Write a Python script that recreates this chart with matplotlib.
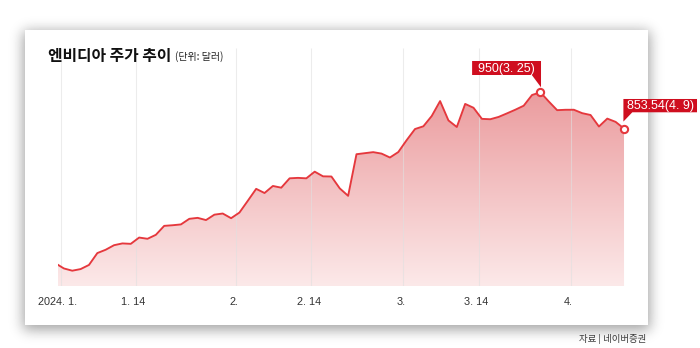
import numpy as np
import matplotlib
matplotlib.use("Agg")
import matplotlib.pyplot as plt
from matplotlib.patches import Rectangle, Polygon
from matplotlib import transforms
from math import erf

# ---------------- data ----------------
dates = [
    "2023-12-29",
    "2024-01-02", "2024-01-03", "2024-01-04", "2024-01-05", "2024-01-08", "2024-01-09",
    "2024-01-10", "2024-01-11", "2024-01-12", "2024-01-16", "2024-01-17", "2024-01-18",
    "2024-01-19", "2024-01-22", "2024-01-23", "2024-01-24", "2024-01-25", "2024-01-26",
    "2024-01-29", "2024-01-30", "2024-01-31",
    "2024-02-01", "2024-02-02", "2024-02-05", "2024-02-06", "2024-02-07", "2024-02-08",
    "2024-02-09", "2024-02-12", "2024-02-13", "2024-02-14", "2024-02-15", "2024-02-16",
    "2024-02-20", "2024-02-21", "2024-02-22", "2024-02-23", "2024-02-26", "2024-02-27",
    "2024-02-28", "2024-02-29",
    "2024-03-01", "2024-03-04", "2024-03-05", "2024-03-06", "2024-03-07", "2024-03-08",
    "2024-03-11", "2024-03-12", "2024-03-13", "2024-03-14", "2024-03-15", "2024-03-18",
    "2024-03-19", "2024-03-20", "2024-03-21", "2024-03-22", "2024-03-25", "2024-03-26",
    "2024-03-27", "2024-03-28",
    "2024-04-01", "2024-04-02", "2024-04-03", "2024-04-04", "2024-04-05", "2024-04-08",
    "2024-04-09",
]
close = [
    495.22,
    481.68, 475.69, 479.98, 490.97, 522.53, 531.40,
    543.50, 548.22, 547.10, 563.82, 560.53, 571.07,
    594.91, 596.54, 598.73, 613.62, 616.17, 610.31,
    624.65, 627.74, 615.27,
    630.27, 661.60, 693.32, 682.23, 700.99, 696.41,
    721.33, 722.48, 721.28, 739.00, 726.58, 726.13,
    694.52, 674.72, 785.38, 788.17, 790.92, 787.01,
    776.63, 791.12,
    822.79, 852.37, 859.64, 887.00, 926.69, 875.28,
    857.74, 919.13, 908.88, 879.44, 878.37, 884.55,
    893.98, 903.72, 914.35, 942.89, 950.02, 925.61,
    902.50, 903.56,
    903.63, 894.52, 889.64, 859.05, 880.08, 871.33,
    853.54,
]
tick_dates = ["2024-01-01", "2024-01-14", "2024-02-01", "2024-02-14",
              "2024-03-01", "2024-03-14", "2024-04-01"]
tick_labels = ["2024. 1.", "1. 14", "2.", "2. 14", "3.", "3. 14", "4."]
callout_dates = ["2024-03-25", "2024-04-09"]
callout_labels = ["950(3. 25)", "853.54(4. 9)"]
title = "엔비디아 주가 추이"
unit = "(단위: 달러)"
source = "자료 | 네이버증권"

# ---------------- style ----------------
W, H = 700, 348
LINE = "#e5383d"
BOX = "#cf0e1f"
KFONT = ["Noto Sans CJK KR", "DejaVu Sans"]
LFONT = ["Liberation Sans", "DejaVu Sans"]

fig = plt.figure(figsize=(W / 100, H / 100), dpi=100)
fig.patch.set_facecolor("white")

# background card with soft shadow
bg = fig.add_axes([0, 0, 1, 1])
bg.set_xlim(0, W)
bg.set_ylim(H, 0)
bg.axis("off")
cx0, cx1, cy0, cy1 = 25, 648, 30, 325
sig = 6.5
verf = np.vectorize(erf)
xs = np.arange(W) + 0.5
ys = np.arange(H) + 0.5
fx = 0.5 * (verf((xs - cx0 + 2) / (sig * 1.414)) - verf((xs - cx1 - 2) / (sig * 1.414)))
fy = 0.5 * (verf((ys - cy0 - 1) / (sig * 1.414)) - verf((ys - cy1 - 5) / (sig * 1.414)))
shadow = 1.0 - 0.36 * np.outer(fy, fx)
bg.imshow(shadow, extent=(0, W, H, 0), cmap="gray", vmin=0, vmax=1,
          interpolation="bilinear", aspect="auto", zorder=0)
bg.add_patch(Rectangle((cx0, cy0), cx1 - cx0, cy1 - cy0, facecolor="white",
                       edgecolor="none", zorder=1))

# main axes (pixel geometry)
axL, axR, axT, axB = 57.7, 640.0, 48.0, 286.0
ax = fig.add_axes([axL / W, (H - axB) / H, (axR - axL) / W, (axB - axT) / H])
ax.set_facecolor("none")
for s in ax.spines.values():
    s.set_visible(False)

x = np.arange(len(close))
y = np.array(close)
px_per_day = 8.36
x_left = 0.26
ybot = 435.0
ytop = 1067.8

# gradient fill under line
fill = ax.fill_between(x, y, ybot, facecolor="none", edgecolor="none")
top_c = np.array([231, 138, 141]) / 255
bot_c = np.array([252, 233, 233]) / 255
t = np.linspace(0, 1, 256)[:, None]
grad = (top_c[None, :] * (1 - t) + bot_c[None, :] * t)[:, None, :]
xlim = (x_left, x_left + (axR - axL) / px_per_day)
im = ax.imshow(grad, extent=(xlim[0], xlim[1], ybot, ytop),
               origin="upper", aspect="auto", interpolation="bilinear", zorder=1)
im.set_clip_path(fill.get_paths()[0], transform=ax.transData)
ax.set_xlim(*xlim)
ax.set_ylim(ybot, ytop)
ax.set_yticks([])

# gridlines at tick positions
tick_pos = []
for d in tick_dates:
    idx = next(i for i, dd in enumerate(dates) if dd >= d)
    tick_pos.append(idx - 0.4)
ax.vlines(tick_pos, ybot, ytop, colors=(0.88, 0.88, 0.88), linewidth=0.8,
          alpha=0.6, zorder=2)

ax.plot(x, y, color=LINE, linewidth=1.35, zorder=3, solid_joinstyle="round")

ax.set_xticks(tick_pos)
ax.set_xticklabels(tick_labels, fontsize=7.8, color="#333333", family=LFONT)
ax.tick_params(axis="x", length=0, pad=8)
shift = transforms.ScaledTranslation(-2.5 / 100, 0, fig.dpi_scale_trans)
for lab in ax.get_xticklabels():
    lab.set_transform(lab.get_transform() + shift)

# callouts
shapes = [
    ([(-68.3, 31.3), (0.6, 31.3), (0.6, 5.0), (-8.6, 17.3), (-68.3, 17.3)], (-33.8, 23.6)),
    ([(-0.6, 29.6), (73.0, 29.6), (73.0, 16.3), (8.3, 16.3), (-0.6, 7.0)], (36.5, 22.3)),
]
for d, lab, (verts, tc) in zip(callout_dates, callout_labels, shapes):
    i = dates.index(d)
    xi, yi = x[i], y[i]
    tr = transforms.Affine2D() + transforms.ScaledTranslation(xi, yi, ax.transData)
    ax.add_patch(Polygon(verts, closed=True, facecolor=BOX, edgecolor="none",
                         transform=tr, clip_on=False, zorder=5))
    ax.annotate(lab, xy=(xi, yi), xytext=tc, textcoords="offset pixels",
                ha="center", va="center", color="white", fontsize=9,
                family=LFONT, annotation_clip=False, zorder=6)
    ax.plot([xi], [yi], "o", ms=5.2, mfc="white", mec=LINE, mew=1.5,
            zorder=7, clip_on=False)

# texts
tt = fig.text(48 / W, (H - 55.5) / H, title, fontsize=11.4, fontweight="bold",
              family=KFONT, color="#111111", va="center", ha="left")
r = fig.canvas.get_renderer()
bb = tt.get_window_extent(r)
fig.text((bb.x1 + 4) / W, (H - 56.5) / H, unit, fontsize=7.2, family=KFONT,
         color="#222222", va="center", ha="left")
fig.text(646 / W, (H - 339.5) / H, source, fontsize=6.8, family=KFONT,
         color="#3a3a3a", va="center", ha="right")

fig.savefig("out.png", dpi=100)
